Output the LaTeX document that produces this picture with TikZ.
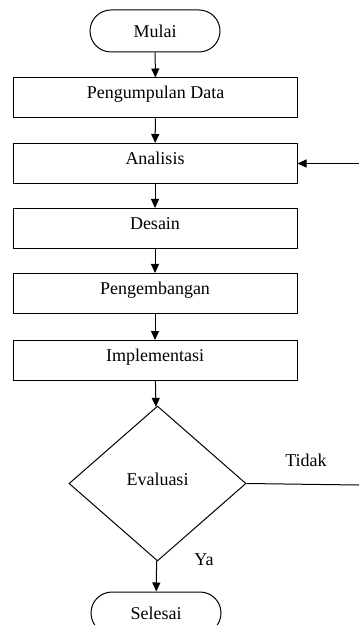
\documentclass[tikz,border=0pt]{standalone}
\usepackage{fontspec}
\setmainfont{Liberation Serif}
\usetikzlibrary{arrows.meta,shapes.geometric,shapes.misc}

\begin{document}
\begin{tikzpicture}[x=0.5pt,y=-0.5pt,line width=0.5pt,
		font=\fontsize{9}{11}\selectfont,
		>={Triangle[width=4pt,length=4.5pt]},
		proses/.style={draw,rectangle,minimum width=142pt,minimum height=20pt,inner sep=0pt,text height=6.5pt,text depth=5.5pt},
		terminal/.style={draw,rounded rectangle,minimum width=65pt,minimum height=21pt,inner sep=0pt},
		keputusan/.style={draw,diamond,minimum width=88.5pt,minimum height=77.5pt,inner sep=0pt,text height=6.5pt,text depth=4.5pt},
		label/.style={inner sep=0pt}]
		\useasboundingbox (0,0) rectangle (359,625);
		
		\node[terminal]  (mulai) at (155,31)    {Mulai};
		\node[proses]    (pd)    at (155.5,98)  {Pengumpulan Data};
		\node[proses]    (ana)   at (155,163.5) {Analisis};
		\node[proses]    (des)   at (155,228.5) {Desain};
		\node[proses]    (peng)  at (155,293.5) {Pengembangan};
		\node[proses]    (imp)   at (155,360.5) {Implementasi};
		\node[keputusan] (eval)  at (157.5,483.5) {Evaluasi};
		\node[terminal]  (sel)   at (156,613)   {Selesai};
		
		\node[label] (tidak) at (306,460) {Tidak};
		\node[label] (ya)    at (204,560) {Ya};
		
		\coordinate (balikA) at (359,485);
		\coordinate (balikB) at (359,163.5);
		
		\draw[->] (mulai) -- (pd);
		\draw[->] (pd)    -- (ana);
		\draw[->] (ana)   -- (des);
		\draw[->] (des)   -- (peng);
		\draw[->] (peng)  -- (imp);
		\draw[->] (imp)   -- (eval);
		\draw[->] (eval)  -- (sel);
		\draw (eval.east) -- (balikA);
		\draw[->] (balikB) -- (ana.east);
	\end{tikzpicture}
\end{document}
